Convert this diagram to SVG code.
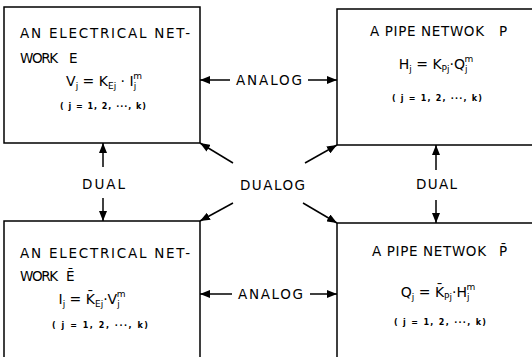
<svg xmlns="http://www.w3.org/2000/svg" width="532" height="357" viewBox="0 0 532 357">
<defs>
<marker id="ah" viewBox="0 0 10 8" refX="10" refY="4" markerWidth="10" markerHeight="8" markerUnits="userSpaceOnUse" orient="auto">
<path d="M0,0 L10,4 L0,8 Z" fill="#000"/>
</marker>
<style>
.box{fill:none;stroke:#000;stroke-width:1.5}
.con{fill:none;stroke:#000;stroke-width:1.5;marker-end:url(#ah)}
text{font-family:"DejaVu Sans","Liberation Sans",sans-serif;fill:#000}
.lbl{font-size:13.5px}
.f{font-size:14px}
.s{font-size:9px}
.p{font-size:8px;font-weight:bold}
</style>
</defs>
<rect width="532" height="357" fill="#fff"/>

<g id="node-e">
<path class="box" d="M4,7 H200 V143 H4 Z"/>
<text class="lbl" x="20" y="38" textLength="170" lengthAdjust="spacing">AN ELECTRICAL NET-</text>
<text class="lbl" x="20" y="63" textLength="38" lengthAdjust="spacing">WORK</text>
<text class="lbl" x="69" y="63">E</text>
<text class="f" x="104" y="86" text-anchor="middle">V<tspan class="s" dy="3">j</tspan><tspan dy="-3"> = K</tspan><tspan class="s" dy="3">Ej</tspan><tspan dy="-3"> · I</tspan><tspan class="s" dy="3">j</tspan><tspan class="s" dx="-3" dy="-10">m</tspan><tspan dy="7"> </tspan></text>
<text class="p" x="103" y="109" text-anchor="middle" textLength="86" lengthAdjust="spacing">( j = 1, 2, ···, k)</text>
</g>

<g id="node-p">
<path class="box" d="M532,9 H337 V145 H532"/>
<text class="lbl" x="370" y="36" textLength="114" lengthAdjust="spacing">A PIPE NETWOK</text>
<text class="lbl" x="499" y="36">P</text>
<text class="f" x="436" y="69" text-anchor="middle">H<tspan class="s" dy="3">j</tspan><tspan dy="-3"> = K</tspan><tspan class="s" dy="3">Pj</tspan><tspan dy="-3">·Q</tspan><tspan class="s" dy="3">j</tspan><tspan class="s" dx="-3" dy="-10">m</tspan><tspan dy="7"> </tspan></text>
<text class="p" x="437" y="101" text-anchor="middle" textLength="90" lengthAdjust="spacing">( j = 1, 2, ···, k)</text>
</g>

<g id="node-e-bar">
<path class="box" d="M4,357 V221 H200 V357"/>
<text class="lbl" x="20" y="258" textLength="170" lengthAdjust="spacing">AN ELECTRICAL NET-</text>
<text class="lbl" x="20" y="281" textLength="38" lengthAdjust="spacing">WORK</text>
<text class="lbl" x="66" y="281">Ē</text>
<text class="f" x="92" y="304" text-anchor="middle">I<tspan class="s" dy="3">j</tspan><tspan dy="-3"> = K̄</tspan><tspan class="s" dy="3">Ej</tspan><tspan dy="-3">·V</tspan><tspan class="s" dy="3">j</tspan><tspan class="s" dx="-3" dy="-10">m</tspan><tspan dy="7"> </tspan></text>
<text class="p" x="100" y="328" text-anchor="middle" textLength="96" lengthAdjust="spacing">( j = 1, 2, ···, k)</text>
</g>

<g id="node-p-bar">
<path class="box" d="M532,223 H337 V357"/>
<text class="lbl" x="372" y="256" textLength="114" lengthAdjust="spacing">A PIPE NETWOK</text>
<text class="lbl" x="499" y="256">P̄</text>
<text class="f" x="438" y="297" text-anchor="middle">Q<tspan class="s" dy="3">j</tspan><tspan dy="-3"> = K̄</tspan><tspan class="s" dy="3">Pj</tspan><tspan dy="-3">·H</tspan><tspan class="s" dy="3">j</tspan><tspan class="s" dx="-3" dy="-10">m</tspan><tspan dy="7"> </tspan></text>
<text class="p" x="440" y="325" text-anchor="middle" textLength="92" lengthAdjust="spacing">( j = 1, 2, ···, k)</text>
</g>

<g id="connectors">
<line class="con" x1="230" y1="80" x2="200" y2="80"/>
<line class="con" x1="308" y1="80" x2="337" y2="80"/>
<text class="lbl" x="236" y="85" textLength="66" lengthAdjust="spacing">ANALOG</text>

<line class="con" x1="232" y1="294" x2="200" y2="294"/>
<line class="con" x1="310" y1="294" x2="337" y2="294"/>
<text class="lbl" x="238" y="299" textLength="65" lengthAdjust="spacing">ANALOG</text>

<line class="con" x1="103" y1="167" x2="103" y2="143"/>
<line class="con" x1="103" y1="198" x2="103" y2="221"/>
<text class="lbl" x="82" y="189" textLength="43" lengthAdjust="spacing">DUAL</text>

<line class="con" x1="436" y1="170" x2="436" y2="145"/>
<line class="con" x1="436" y1="200" x2="436" y2="223"/>
<text class="lbl" x="416" y="189" textLength="41" lengthAdjust="spacing">DUAL</text>

<line class="con" x1="233" y1="163" x2="200" y2="143"/>
<line class="con" x1="305" y1="163" x2="337" y2="145"/>
<line class="con" x1="233" y1="203" x2="200" y2="221"/>
<line class="con" x1="303" y1="203" x2="337" y2="223"/>
<text class="lbl" x="240" y="190" textLength="65" lengthAdjust="spacing">DUALOG</text>
</g>
</svg>
